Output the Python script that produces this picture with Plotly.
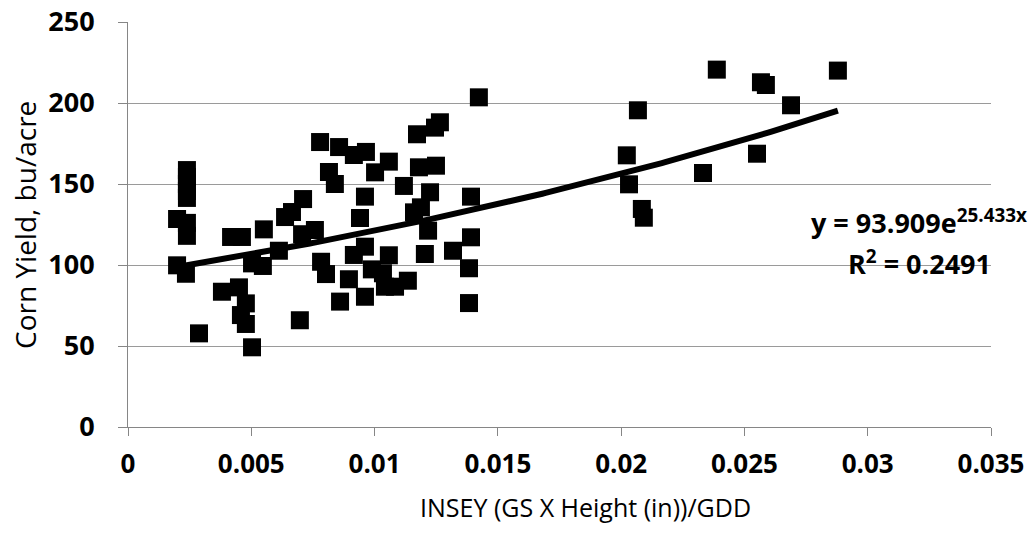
import plotly.graph_objects as go
import numpy as np

# INSEY values (x) and corn yield (bu/acre)
insey = [
    0.00239, 0.00239, 0.00239, 0.00239, 0.00239,
    0.00199, 0.00239, 0.00239,
    0.00199, 0.00235,
    0.00288,
    0.00381, 0.00450, 0.00478, 0.00458, 0.00478,
    0.00418, 0.00462,
    0.00503,
    0.00503, 0.00547, 0.00551, 0.00612,
    0.00637, 0.00665, 0.00710,
    0.00706, 0.00758,
    0.00697,
    0.00783, 0.00803, 0.00860, 0.00896,
    0.00779, 0.00856, 0.00916, 0.00965, 0.00815, 0.00839, 0.01002, 0.01058,
    0.00961, 0.00941,
    0.00916, 0.00961, 0.01058, 0.00989, 0.00961, 0.01034, 0.01042, 0.01083,
    0.01135,
    0.01172, 0.01245, 0.01265, 0.01423,
    0.01180, 0.01249,
    0.01119, 0.01225, 0.01391,
    0.01160, 0.01188,
    0.01217, 0.01204, 0.01318, 0.01391, 0.01383, 0.01383,
    0.02068, 0.02023, 0.02032, 0.02084, 0.02092, 0.02332,
    0.02388, 0.02567, 0.02587, 0.02551, 0.02689, 0.02879,
]
yield_bu = [
    158.6, 154.3, 150.0, 145.7, 141.4,
    128.4, 126.0, 118.0,
    99.8, 94.6,
    57.8,
    83.5, 86.2, 76.3, 69.1, 63.6,
    117.3, 117.3,
    49.2,
    101.0, 99.4, 122.0, 108.8,
    129.6, 132.7, 140.7,
    119.0, 121.6,
    65.9,
    102.0, 94.4, 77.4, 91.2,
    175.9, 172.8, 167.9, 169.8, 157.4, 150.0, 157.2, 163.8,
    142.2, 129.0,
    106.2, 111.3, 106.0, 97.3, 80.4, 94.9, 86.6, 86.6,
    90.3,
    180.7, 184.8, 188.1, 203.5,
    160.3, 161.3,
    148.8, 144.9, 142.2,
    132.5, 135.6,
    121.2, 106.8, 108.8, 117.1, 98.0, 76.5,
    195.5, 167.7, 149.8, 134.6, 129.2, 156.8,
    220.6, 212.8, 211.1, 168.7, 198.6, 220.0,
]

# exponential trendline coefficients (from the chart's label)
fit_a = 93.909
fit_b = 25.433
fit_r2 = 0.2491

x_ticks = [0, 0.005, 0.01, 0.015, 0.02, 0.025, 0.03, 0.035]
x_tick_labels = ["0", "0.005", "0.01", "0.015", "0.02", "0.025", "0.03", "0.035"]
y_ticks = [0, 50, 100, 150, 200, 250]

x_title = "INSEY (GS X Height (in))/GDD"
y_title = "Corn Yield, bu/acre"

tx = np.linspace(min(insey), max(insey), 200)
ty = fit_a * np.exp(fit_b * tx)

fig = go.Figure()
fig.add_trace(go.Scatter(
    x=insey, y=yield_bu, mode="markers",
    marker=dict(symbol="square", size=18, color="black", line=dict(width=0)),
    showlegend=False, hoverinfo="skip",
))
fig.add_trace(go.Scatter(
    x=tx, y=ty, mode="lines",
    line=dict(color="black", width=6),
    showlegend=False, hoverinfo="skip",
))

axis_gray = "#868686"
fig.update_layout(
    width=1036, height=533,
    margin=dict(l=128, r=45, t=22, b=106),
    paper_bgcolor="white", plot_bgcolor="white",
    font=dict(family="Open Sans", color="black"),
    xaxis=dict(
        range=[0, 0.035], tickvals=x_ticks, ticktext=x_tick_labels,
        showgrid=False, zeroline=False, automargin=False,
        showline=True, linecolor=axis_gray, linewidth=1,
        ticks="outside", ticklen=8, tickcolor=axis_gray,
        tickfont=dict(size=26, family="Open Sans", weight="bold"),
        ticklabelstandoff=6,
    ),
    yaxis=dict(
        range=[0, 250], tickvals=y_ticks,
        showgrid=True, gridcolor="#9a9a9a", gridwidth=1,
        zeroline=False, automargin=False,
        showline=True, linecolor=axis_gray, linewidth=1,
        ticks="outside", ticklen=9, tickcolor=axis_gray,
        tickfont=dict(size=27, family="Open Sans", weight="bold"),
        ticklabelstandoff=18,
    ),
    annotations=[
        dict(text=x_title, xref="paper", yref="paper", x=0.53, y=-0.198,
             xanchor="center", yanchor="middle", showarrow=False,
             font=dict(size=25, family="Open Sans")),
        dict(text=y_title, xref="paper", yref="paper", x=-0.12, y=0.5,
             xanchor="center", yanchor="middle", showarrow=False, textangle=-90,
             font=dict(size=28, family="Open Sans")),
        dict(text="y = %.3fe<sup>%.3fx</sup>" % (fit_a, fit_b), x=0.03208, y=127,
             xanchor="center", yanchor="middle", showarrow=False,
             font=dict(size=27, family="Open Sans", weight="bold")),
        dict(text="R<sup>2</sup> = %.4f" % fit_r2, x=0.03208, y=101.5,
             xanchor="center", yanchor="middle", showarrow=False,
             font=dict(size=27, family="Open Sans", weight="bold")),
    ],
)

fig.write_html("out.html")
